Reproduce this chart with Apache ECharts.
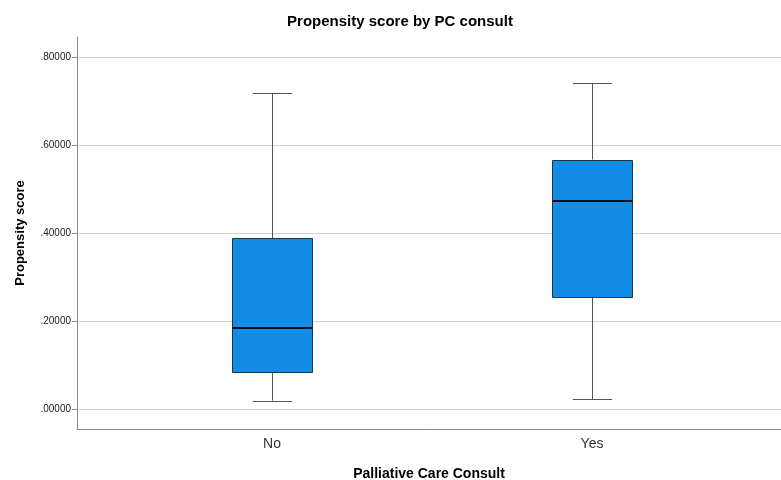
<!DOCTYPE html>
<html>
<head>
<meta charset="utf-8">
<script src="https://cdn.jsdelivr.net/npm/echarts@6/dist/echarts.min.js"></script>
<style>html,body{margin:0;padding:0;background:#fff;}#c{width:781px;height:480px;}</style>
</head>
<body>
<div id="c"></div>
<script>
const categories = ['No', 'Yes'];
const lowerWhisker = [0.019, 0.022];
const q1 = [0.083, 0.254];
const median = [0.184, 0.473];
const q3 = [0.388, 0.567];
const upperWhisker = [0.718, 0.740];
const tickValues = [0, 0.2, 0.4, 0.6, 0.8];

const yMin = -0.0455, yMax = 0.8455;
const font = '"Liberation Sans", Arial, sans-serif';

const boxData = categories.map((c, i) => [i, lowerWhisker[i], q1[i], median[i], q3[i], upperWhisker[i]]);

const chart = echarts.init(document.getElementById('c'), null, {renderer: 'canvas'});
chart.setOption({
  animation: false,
  backgroundColor: '#fff',
  title: {
    text: 'Propensity score by PC consult',
    left: 395, top: 9, textAlign: 'center',
    textStyle: {fontFamily: font, fontSize: 15, fontWeight: 'bold', color: '#000'}
  },
  grid: [
    {left: 77, right: 0, top: 37, bottom: 51, outerBoundsMode: 'none', containLabel: false},
    {left: 112, right: 29, top: 37, bottom: 51, outerBoundsMode: 'none', containLabel: false}
  ],
  xAxis: [
    {
      gridIndex: 0, type: 'value', min: 0, max: 1,
      axisLine: {show: true, onZero: false, lineStyle: {color: '#888', width: 1}},
      axisTick: {show: false}, axisLabel: {show: false}, splitLine: {show: false},
      name: 'Palliative Care Consult', nameLocation: 'middle', nameGap: 38,
      nameTextStyle: {fontFamily: font, fontSize: 14, fontWeight: 'bold', color: '#000'}
    },
    {
      gridIndex: 1, type: 'category', data: categories,
      axisLine: {show: false, onZero: false}, axisTick: {show: false},
      axisLabel: {fontFamily: font, fontSize: 14, color: '#333', margin: 8}
    }
  ],
  yAxis: [
    {
      gridIndex: 0, type: 'value', min: yMin, max: yMax,
      axisLine: {show: true, onZero: false, lineStyle: {color: '#888', width: 1}},
      axisTick: {show: true, length: 5, customValues: tickValues, lineStyle: {color: '#888'}},
      axisLabel: {
        customValues: tickValues, fontFamily: font, fontSize: 10, color: '#222', margin: 6,
        formatter: v => '.' + Number(v).toFixed(5).split('.')[1]
      },
      splitLine: {show: true, lineStyle: {color: '#d2d2d2', width: 1}},
      name: 'Propensity score', nameLocation: 'middle', nameGap: 50, nameRotate: 90,
      nameTextStyle: {fontFamily: font, fontSize: 13, fontWeight: 'bold', color: '#000'}
    },
    {gridIndex: 1, type: 'value', min: yMin, max: yMax, show: false}
  ],
  series: [{
    type: 'custom',
    xAxisIndex: 1, yAxisIndex: 1,
    data: boxData,
    encode: {x: 0, y: [1, 2, 3, 4, 5]},
    renderItem: function (params, api) {
      const idx = api.value(0);
      const pMin = api.coord([idx, api.value(1)]);
      const pQ1 = api.coord([idx, api.value(2)]);
      const pMed = api.coord([idx, api.value(3)]);
      const pQ3 = api.coord([idx, api.value(4)]);
      const pMax = api.coord([idx, api.value(5)]);
      const band = api.size([1, 0])[0];
      const bw = band * 0.25;
      const cw = bw * 0.49;
      const x = Math.round(pMed[0]) + 0.5;
      const wStyle = {stroke: '#555', lineWidth: 1, fill: null};
      return {
        type: 'group',
        children: [
          {type: 'line', shape: {x1: x, y1: pMin[1], x2: x, y2: pQ1[1]}, style: wStyle},
          {type: 'line', shape: {x1: x, y1: pQ3[1], x2: x, y2: pMax[1]}, style: wStyle},
          {type: 'line', shape: {x1: x - cw / 2, y1: Math.round(pMin[1]) + 0.5, x2: x + cw / 2, y2: Math.round(pMin[1]) + 0.5}, style: wStyle},
          {type: 'line', shape: {x1: x - cw / 2, y1: Math.round(pMax[1]) + 0.5, x2: x + cw / 2, y2: Math.round(pMax[1]) + 0.5}, style: wStyle},
          {type: 'rect', shape: {x: x - bw / 2, y: Math.round(pQ3[1]) + 0.5, width: bw, height: Math.round(pQ1[1]) - Math.round(pQ3[1])},
            style: {fill: '#138CE6', stroke: '#1f3447', lineWidth: 1}},
          {type: 'line', shape: {x1: x - bw / 2, y1: Math.round(pMed[1]), x2: x + bw / 2, y2: Math.round(pMed[1])},
            style: {stroke: '#0a0f1a', lineWidth: 2}}
        ]
      };
    }
  }]
});
</script>
</body>
</html>
